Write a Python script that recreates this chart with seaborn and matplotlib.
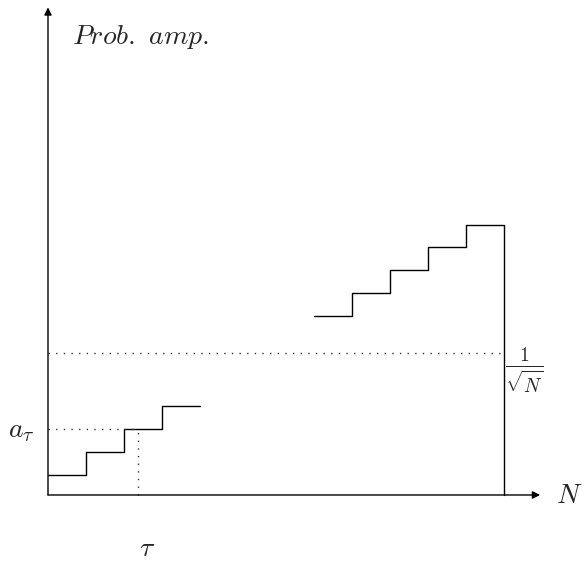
import matplotlib
matplotlib.use("Agg")
import matplotlib.pyplot as plt
import seaborn as sns
import pandas as pd

# Staircase amplitudes (arbitrary units), one step per basis index
low_x = [0, 1, 2, 3, 4]
low_amp = [0.87, 1.87, 2.87, 3.87, 3.87]
high_x = [7, 8, 9, 10, 11, 12, 12]
high_amp = [7.78, 8.78, 9.78, 10.78, 11.74, 11.74, 0.0]

tau = 2.37
a_tau = 2.87
inv_sqrt_n = 6.17
n_end = 12
x_axis_end = 12.95
y_axis_end = 21.2

sns.set_style("white")
plt.rcParams["mathtext.fontset"] = "cm"

fig = plt.figure(figsize=(5.84, 5.63), dpi=100)
ax = fig.add_axes([0, 0, 1, 1])
ax.set_xlim(-1.263, 14.105)
ax.set_ylim(-2.957, 21.52)
ax.axis("off")

low = pd.DataFrame({"x": low_x, "amp": low_amp})
high = pd.DataFrame({"x": high_x, "amp": high_amp})
for df in (low, high):
    sns.lineplot(data=df, x="x", y="amp", ax=ax, sort=False, estimator=None,
                 drawstyle="steps-post", color="black", lw=1.0, legend=False)

# dotted reference lines
dot = dict(color="#333333", lw=1.0, linestyle=(0, (1, 4.5)))
ax.plot([0, tau], [a_tau, a_tau], **dot)
ax.plot([tau, tau], [0, a_tau], **dot)
ax.plot([0, n_end], [inv_sqrt_n, inv_sqrt_n], **dot)

# axes with arrowheads
arrow = dict(arrowstyle="-|>", mutation_scale=11, lw=1.0, color="black",
             shrinkA=0, shrinkB=0)
ax.annotate("", xy=(x_axis_end, 0), xytext=(0, 0), arrowprops=arrow)
ax.annotate("", xy=(0, y_axis_end), xytext=(0, 0), arrowprops=arrow)

fs = 20
ax.text(0.63, 19.6, r"$Prob.\ amp.$", fontsize=fs, ha="left", va="baseline")
ax.text(-0.34, 2.52, r"$a_\tau$", fontsize=fs, ha="right", va="baseline")
ax.text(2.61, -2.65, r"$\tau$", fontsize=fs, ha="center", va="baseline")
ax.text(13.36, 0, r"$N$", fontsize=fs, ha="left", va="center")
ax.text(12.03, 6.52, r"$\frac{1}{\sqrt{N}}$", fontsize=fs,
        ha="left", va="top")

fig.savefig("out.png", dpi=100)
